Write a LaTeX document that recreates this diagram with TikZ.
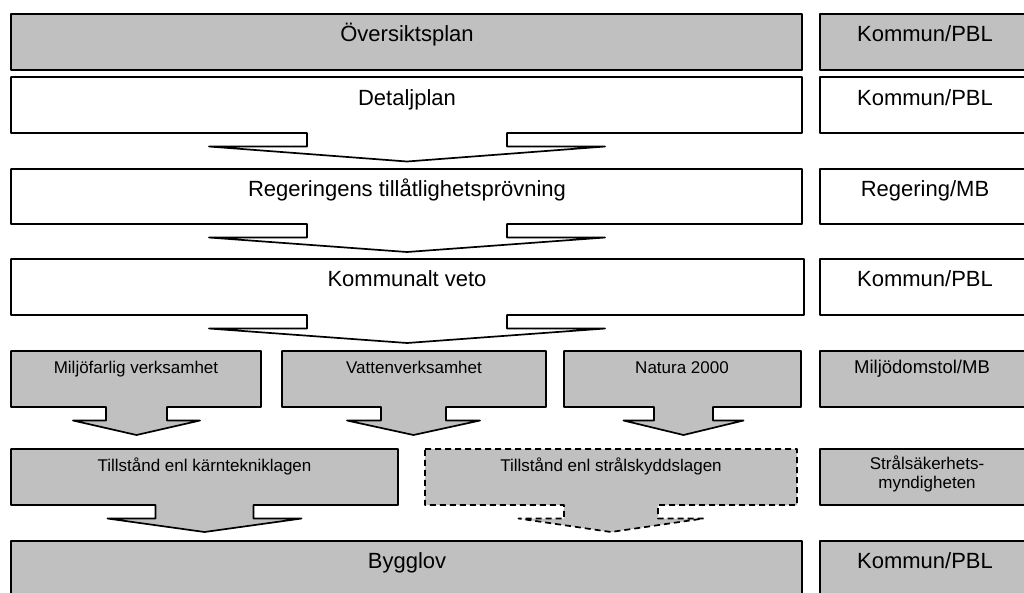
\documentclass[tikz,border=0pt]{standalone}
\usepackage{fontspec}
\setmainfont{Liberation Sans}
\definecolor{boxgray}{HTML}{C0C0C0}
\newcommand\downbox[9]{%
  \draw[#1] (#2,#3) -- (#4,#3) -- (#4,#5) -- (#6+#7,#5) -- (#6+#7,#5+13.5)
    -- (#6+#8,#5+13.5) -- (#6,#9) -- (#6-#8,#5+13.5) -- (#6-#7,#5+13.5)
    -- (#6-#7,#5) -- (#2,#5) -- cycle;}
\begin{document}
\begin{tikzpicture}[x=1pt,y=-1pt,
  box/.style={draw=black, line width=1.7pt, line join=round},
  gbox/.style={box, fill=boxgray},
  wbox/.style={box, fill=white},
  dbox/.style={box, fill=boxgray, dash pattern=on 6pt off 4pt},
  big/.style={font=\fontsize{22}{26}\selectfont, anchor=base, inner sep=0pt},
  small/.style={font=\fontsize{17}{20}\selectfont, anchor=base, inner sep=0pt}]
\useasboundingbox (0,0) rectangle (1024,592);
\clip (0,0) rectangle (1024,592);
\fill[white] (0,0) rectangle (1024,592);

% row 1
\draw[gbox] (11,14) rectangle (802,70);
\node[big] (t1) at (407,41) {Översiktsplan};
% row 2
\downbox{wbox}{11}{77}{802}{133}{407}{100}{198}{161.5}
\node[big] (t2) at (407,105) {Detaljplan};
% row 3
\downbox{wbox}{11}{169}{802}{224}{407}{100}{198}{252}
\node[big] (t3) at (407,196) {Regeringens tillåtlighetsprövning};
% row 4
\downbox{wbox}{11}{259}{804}{315}{407}{100}{198}{343}
\node[big] (t4) at (407,286) {Kommunalt veto};
% row 5
\downbox{gbox}{11}{351}{261}{407}{136.5}{30.5}{63.5}{435}
\node[small] (t5a) at (136,373) {Miljöfarlig verksamhet};
\downbox{gbox}{282}{351}{546}{407}{413.5}{32.5}{66.5}{435}
\node[small] (t5b) at (414,373) {Vattenverksamhet};
\downbox{gbox}{564}{351}{801}{407}{683.5}{29.5}{60}{435}
\node[small] (t5c) at (682,373) {Natura 2000};
% row 6
\downbox{gbox}{11}{449}{398}{505}{204.5}{49}{97}{532}
\node[small] (t6a) at (204.5,471) {Tillstånd enl kärntekniklagen};
\downbox{dbox}{425}{449}{797}{505}{611}{47}{92.5}{532}
\node[small] (t6b) at (611,471) {Tillstånd enl strålskyddslagen};
% row 7
\draw[gbox] (11,541) rectangle (802,620);
\node[big] (t7) at (407,568) {Bygglov};

% right column
\draw[gbox] (820,14) rectangle (1040,70);
\node[big] (r1) at (925,41) {Kommun/PBL};
\draw[wbox] (820,77) rectangle (1040,133);
\node[big] (r2) at (925,105) {Kommun/PBL};
\draw[wbox] (820,169) rectangle (1040,224);
\node[big] (r3) at (925,196) {Regering/MB};
\draw[wbox] (820,259) rectangle (1040,315);
\node[big] (r4) at (925,286) {Kommun/PBL};
\draw[gbox] (820,351) rectangle (1040,407);
\node[small, font=\fontsize{18.5}{22}\selectfont] (r5) at (922,373) {Miljödomstol/MB};
\draw[gbox] (820,449) rectangle (1040,505);
\node[font=\fontsize{17}{19}\selectfont, align=center, inner sep=0pt] (r6) at (927,474) {Strålsäkerhets-\\myndigheten};
\draw[gbox] (820,541) rectangle (1040,620);
\node[big] (r7) at (925,568) {Kommun/PBL};
\end{tikzpicture}
\end{document}
